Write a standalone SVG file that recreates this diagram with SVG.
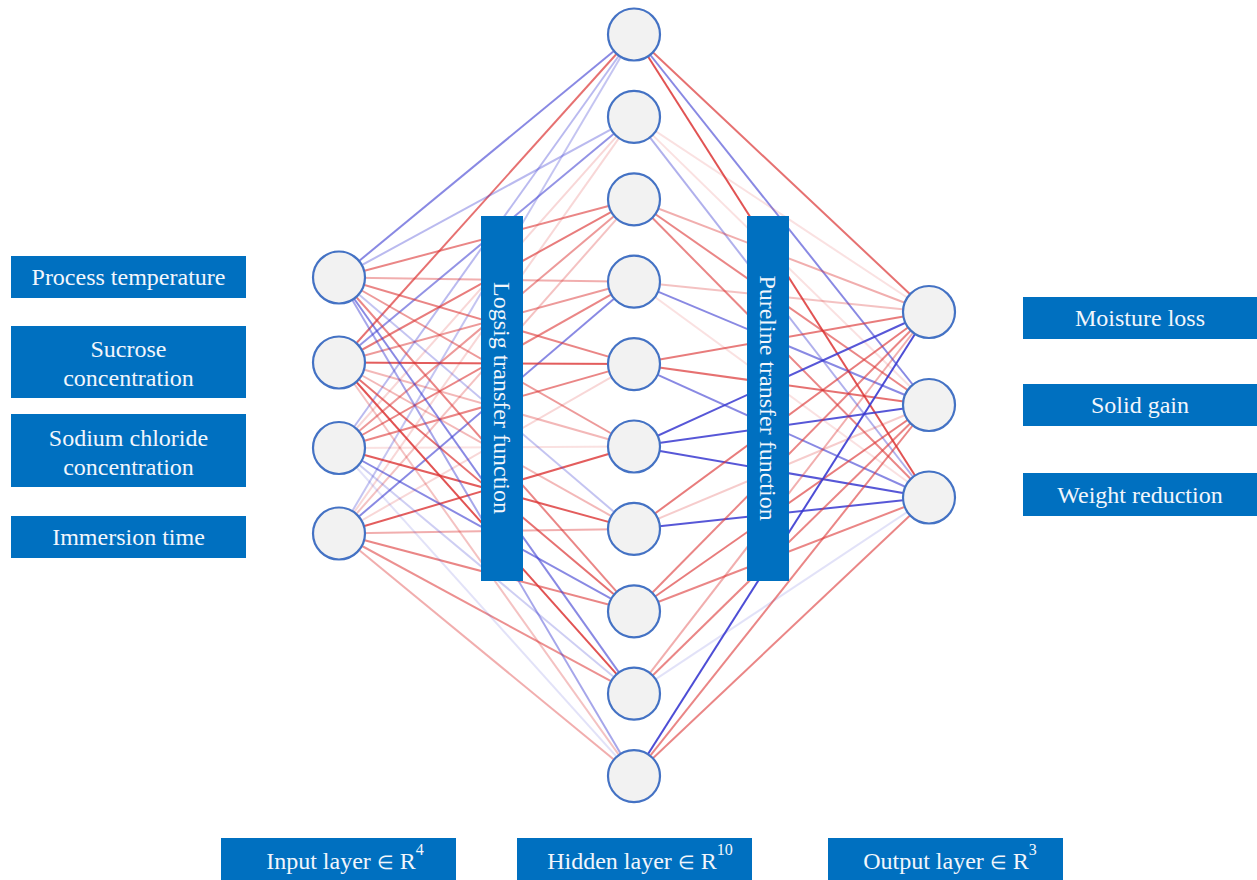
<svg xmlns="http://www.w3.org/2000/svg" width="1257" height="880" viewBox="0 0 1257 880">
<style>
.p{stroke:#DC3535;stroke-width:2;fill:none}
.n{stroke:#3A3AD0;stroke-width:2;fill:none}
.node{fill:#F2F2F2;stroke:#4472C4;stroke-width:2.2}
.box{fill:#0070C0}
.t{font-family:"Liberation Serif","Times New Roman",serif;fill:#F2F6FC;text-anchor:middle;font-size:24px}
.e{font-size:19px}
.s{font-size:16px}
</style>
<rect width="1257" height="880" fill="#FFFFFF"/>
<g id="connectors">
<!-- input to hidden 1 -->
<line class="n" stroke-opacity=".6" x1="339" y1="277.5" x2="634" y2="34.5"/>
<line class="p" stroke-opacity=".7" x1="339" y1="362.5" x2="634" y2="34.5"/>
<line class="n" stroke-opacity=".35" x1="339" y1="448" x2="634" y2="34.5"/>
<line class="n" stroke-opacity=".3" x1="339" y1="533.5" x2="634" y2="34.5"/>
<!-- hidden 2 -->
<line class="n" stroke-opacity=".35" x1="339" y1="277.5" x2="634" y2="116.9"/>
<line class="n" stroke-opacity=".55" x1="339" y1="362.5" x2="634" y2="116.9"/>
<line class="p" stroke-opacity=".2" x1="339" y1="448" x2="634" y2="116.9"/>
<line class="p" stroke-opacity=".2" x1="339" y1="533.5" x2="634" y2="116.9"/>
<!-- hidden 3 -->
<line class="p" stroke-opacity=".6" x1="339" y1="277.5" x2="634" y2="199.3"/>
<line class="p" stroke-opacity=".65" x1="339" y1="362.5" x2="634" y2="199.3"/>
<line class="p" stroke-opacity=".5" x1="339" y1="448" x2="634" y2="199.3"/>
<line class="p" stroke-opacity=".3" x1="339" y1="533.5" x2="634" y2="199.3"/>
<!-- hidden 4 -->
<line class="p" stroke-opacity=".4" x1="339" y1="277.5" x2="634" y2="281.7"/>
<line class="p" stroke-opacity=".5" x1="339" y1="362.5" x2="634" y2="281.7"/>
<line class="p" stroke-opacity=".6" x1="339" y1="448" x2="634" y2="281.7"/>
<line class="n" stroke-opacity=".6" x1="339" y1="533.5" x2="634" y2="281.7"/>
<!-- hidden 5 -->
<line class="p" stroke-opacity=".6" x1="339" y1="277.5" x2="634" y2="364.1"/>
<line class="p" stroke-opacity=".8" x1="339" y1="362.5" x2="634" y2="364.1"/>
<line class="p" stroke-opacity=".6" x1="339" y1="448" x2="634" y2="364.1"/>
<line class="p" stroke-opacity=".2" x1="339" y1="533.5" x2="634" y2="364.1"/>
<!-- hidden 6 -->
<line class="p" stroke-opacity=".5" x1="339" y1="277.5" x2="634" y2="446.5"/>
<line class="p" stroke-opacity=".35" x1="339" y1="362.5" x2="634" y2="446.5"/>
<line class="p" stroke-opacity=".15" x1="339" y1="448" x2="634" y2="446.5"/>
<line class="p" stroke-opacity=".8" x1="339" y1="533.5" x2="634" y2="446.5"/>
<!-- hidden 7 -->
<line class="n" stroke-opacity=".3" x1="339" y1="277.5" x2="634" y2="528.9"/>
<line class="p" stroke-opacity=".35" x1="339" y1="362.5" x2="634" y2="528.9"/>
<line class="p" stroke-opacity=".8" x1="339" y1="448" x2="634" y2="528.9"/>
<line class="p" stroke-opacity=".4" x1="339" y1="533.5" x2="634" y2="528.9"/>
<!-- hidden 8 -->
<line class="p" stroke-opacity=".6" x1="339" y1="277.5" x2="634" y2="611.3"/>
<line class="p" stroke-opacity=".7" x1="339" y1="362.5" x2="634" y2="611.3"/>
<line class="n" stroke-opacity=".6" x1="339" y1="448" x2="634" y2="611.3"/>
<line class="p" stroke-opacity=".6" x1="339" y1="533.5" x2="634" y2="611.3"/>
<!-- hidden 9 -->
<line class="n" stroke-opacity=".6" x1="339" y1="277.5" x2="634" y2="693.7"/>
<line class="p" stroke-opacity=".85" x1="339" y1="362.5" x2="634" y2="693.7"/>
<line class="n" stroke-opacity=".25" x1="339" y1="448" x2="634" y2="693.7"/>
<line class="p" stroke-opacity=".55" x1="339" y1="533.5" x2="634" y2="693.7"/>
<!-- hidden 10 -->
<line class="n" stroke-opacity=".45" x1="339" y1="277.5" x2="634" y2="776.1"/>
<line class="p" stroke-opacity=".3" x1="339" y1="362.5" x2="634" y2="776.1"/>
<line class="n" stroke-opacity=".15" x1="339" y1="448" x2="634" y2="776.1"/>
<line class="p" stroke-opacity=".4" x1="339" y1="533.5" x2="634" y2="776.1"/>
<!-- hidden to output -->
<line class="p" stroke-opacity=".7" x1="634" y1="34.5" x2="929" y2="312"/>
<line class="n" stroke-opacity=".6" x1="634" y1="34.5" x2="929" y2="405"/>
<line class="p" stroke-opacity=".85" x1="634" y1="34.5" x2="929" y2="497.5"/>
<line class="p" stroke-opacity=".15" x1="634" y1="116.9" x2="929" y2="312"/>
<line class="p" stroke-opacity=".15" x1="634" y1="116.9" x2="929" y2="405"/>
<line class="n" stroke-opacity=".4" x1="634" y1="116.9" x2="929" y2="497.5"/>
<line class="p" stroke-opacity=".4" x1="634" y1="199.3" x2="929" y2="312"/>
<line class="p" stroke-opacity=".6" x1="634" y1="199.3" x2="929" y2="405"/>
<line class="p" stroke-opacity=".6" x1="634" y1="199.3" x2="929" y2="497.5"/>
<line class="p" stroke-opacity=".3" x1="634" y1="281.7" x2="929" y2="312"/>
<line class="n" stroke-opacity=".6" x1="634" y1="281.7" x2="929" y2="405"/>
<line class="p" stroke-opacity=".15" x1="634" y1="281.7" x2="929" y2="497.5"/>
<line class="p" stroke-opacity=".65" x1="634" y1="364.1" x2="929" y2="312"/>
<line class="p" stroke-opacity=".7" x1="634" y1="364.1" x2="929" y2="405"/>
<line class="n" stroke-opacity=".6" x1="634" y1="364.1" x2="929" y2="497.5"/>
<line class="n" stroke-opacity=".85" x1="634" y1="446.5" x2="929" y2="312"/>
<line class="n" stroke-opacity=".85" x1="634" y1="446.5" x2="929" y2="405"/>
<line class="n" stroke-opacity=".85" x1="634" y1="446.5" x2="929" y2="497.5"/>
<line class="p" stroke-opacity=".65" x1="634" y1="528.9" x2="929" y2="312"/>
<line class="p" stroke-opacity=".25" x1="634" y1="528.9" x2="929" y2="405"/>
<line class="n" stroke-opacity=".85" x1="634" y1="528.9" x2="929" y2="497.5"/>
<line class="p" stroke-opacity=".6" x1="634" y1="611.3" x2="929" y2="312"/>
<line class="p" stroke-opacity=".65" x1="634" y1="611.3" x2="929" y2="405"/>
<line class="p" stroke-opacity=".6" x1="634" y1="611.3" x2="929" y2="497.5"/>
<line class="p" stroke-opacity=".4" x1="634" y1="693.7" x2="929" y2="312"/>
<line class="p" stroke-opacity=".6" x1="634" y1="693.7" x2="929" y2="405"/>
<line class="n" stroke-opacity=".15" x1="634" y1="693.7" x2="929" y2="497.5"/>
<line class="n" stroke-opacity=".9" x1="634" y1="776.1" x2="929" y2="312"/>
<line class="p" stroke-opacity=".6" x1="634" y1="776.1" x2="929" y2="405"/>
<line class="p" stroke-opacity=".6" x1="634" y1="776.1" x2="929" y2="497.5"/>
</g>
<g id="input-nodes">
<circle id="in1" class="node" cx="339" cy="277.5" r="26"/>
<circle id="in2" class="node" cx="339" cy="362.5" r="26"/>
<circle id="in3" class="node" cx="339" cy="448" r="26"/>
<circle id="in4" class="node" cx="339" cy="533.5" r="26"/>
</g>
<g id="hidden-nodes">
<circle id="h1" class="node" cx="634" cy="34.5" r="26"/>
<circle id="h2" class="node" cx="634" cy="116.9" r="26"/>
<circle id="h3" class="node" cx="634" cy="199.3" r="26"/>
<circle id="h4" class="node" cx="634" cy="281.7" r="26"/>
<circle id="h5" class="node" cx="634" cy="364.1" r="26"/>
<circle id="h6" class="node" cx="634" cy="446.5" r="26"/>
<circle id="h7" class="node" cx="634" cy="528.9" r="26"/>
<circle id="h8" class="node" cx="634" cy="611.3" r="26"/>
<circle id="h9" class="node" cx="634" cy="693.7" r="26"/>
<circle id="h10" class="node" cx="634" cy="776.1" r="26"/>
</g>
<g id="output-nodes">
<circle id="o1" class="node" cx="929" cy="312" r="26"/>
<circle id="o2" class="node" cx="929" cy="405" r="26"/>
<circle id="o3" class="node" cx="929" cy="497.5" r="26"/>
</g>
<g id="logsig-bar">
<rect class="box" x="481" y="216" width="42" height="365"/>
<text class="t" transform="translate(502 398) rotate(90)" dy="8">Logsig transfer function</text>
</g>
<g id="pureline-bar">
<rect class="box" x="747" y="216" width="42" height="365"/>
<text class="t" transform="translate(768 398) rotate(90)" dy="8">Pureline transfer function</text>
</g>
<g id="input-labels">
<g id="lbl-process-temperature">
<rect class="box" x="11" y="256" width="235" height="42"/>
<text class="t" x="128.5" y="285">Process temperature</text>
</g>
<g id="lbl-sucrose">
<rect class="box" x="11" y="326" width="235" height="72"/>
<text class="t" x="128.5" y="357">Sucrose</text>
<text class="t" x="128.5" y="386">concentration</text>
</g>
<g id="lbl-sodium">
<rect class="box" x="11" y="414" width="235" height="73"/>
<text class="t" x="128.5" y="446">Sodium chloride</text>
<text class="t" x="128.5" y="475">concentration</text>
</g>
<g id="lbl-immersion">
<rect class="box" x="11" y="516" width="235" height="42"/>
<text class="t" x="128.5" y="545">Immersion time</text>
</g>
</g>
<g id="output-labels">
<g id="lbl-moisture">
<rect class="box" x="1023" y="297" width="234" height="42"/>
<text class="t" x="1140" y="326">Moisture loss</text>
</g>
<g id="lbl-solid">
<rect class="box" x="1023" y="384" width="234" height="42"/>
<text class="t" x="1140" y="413">Solid gain</text>
</g>
<g id="lbl-weight">
<rect class="box" x="1023" y="473" width="234" height="43"/>
<text class="t" x="1140" y="502.5">Weight reduction</text>
</g>
</g>
<g id="layer-labels">
<g id="lbl-input-layer">
<rect class="box" x="221" y="838" width="235" height="42"/>
<text class="t" x="345" y="869">Input layer <tspan class="e">∈</tspan>  R<tspan class="s" dy="-14">4</tspan></text>
</g>
<g id="lbl-hidden-layer">
<rect class="box" x="517" y="838" width="235" height="42"/>
<text class="t" x="640" y="869">Hidden layer <tspan class="e">∈</tspan> R<tspan class="s" dy="-14">10</tspan></text>
</g>
<g id="lbl-output-layer">
<rect class="box" x="828" y="838" width="235" height="42"/>
<text class="t" x="950" y="869">Output layer <tspan class="e">∈</tspan>  R<tspan class="s" dy="-14">3</tspan></text>
</g>
</g>
</svg>
